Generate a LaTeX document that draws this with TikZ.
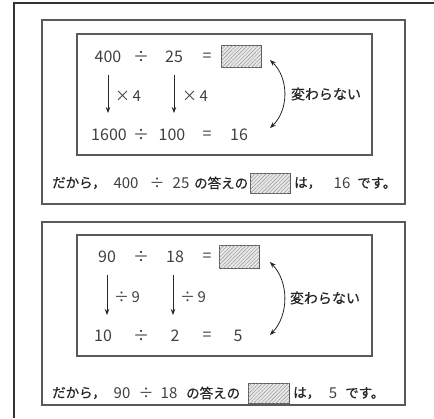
\documentclass[tikz,border=0pt]{standalone}
\usepackage{fontspec}
\newfontfamily\jp{Noto Sans CJK JP}
\newfontfamily\jpb[FakeBold=0.6]{Noto Sans CJK JP}
\usetikzlibrary{patterns.meta,arrows.meta}
\definecolor{ink}{HTML}{404040}
\definecolor{jink}{HTML}{262626}
\definecolor{boxc}{HTML}{5A5A5A}
\definecolor{outer}{HTML}{333333}
\begin{document}
\begin{tikzpicture}[x=1pt,y=-1pt,
  num/.style={font=\jp\fontsize{16}{16}\selectfont, text=ink, inner sep=0, anchor=center},
  bnum/.style={font=\jp\fontsize{15}{15}\selectfont, text=ink, inner sep=0, anchor=center},
  jtxt/.style={font=\jpb\fontsize{13.5}{13.5}\selectfont, text=jink, inner sep=0, anchor=west},
  lab/.style={font=\jpb\fontsize{14}{14}\selectfont, text=jink, inner sep=0, anchor=center},
  hatch/.style={draw=boxc, line width=0.8pt, fill=gray!18, inner sep=0,
    postaction={pattern={Lines[angle=45,distance=2.6pt,line width=0.45pt]}, pattern color=gray!85}},
  frame/.style={draw=boxc, line width=1.1pt},
  arr/.style={draw=jink, line width=0.8pt, -{Stealth[length=6pt,width=4.5pt]}},
  darr/.style={draw=jink, line width=0.8pt, {Stealth[length=6pt,width=4.5pt]}-{Stealth[length=6pt,width=4.5pt]}}
]
\useasboundingbox (0,0) rectangle (434,418);
% outer frame lines
\draw[outer, line width=1.2pt] (434,3) -- (14,3) -- (14,418);

% ===== Box 1 =====
\draw[frame] (42,20) rectangle (405,204);
\draw[frame] (77,34) rectangle (372,155);
\node[num] (t1a) at (108,57) {400};
\node[num] (t1b) at (141,57) {÷};
\node[num] (t1c) at (174,57) {25};
\node[num] (t1d) at (207,57) {=};
\node[hatch, minimum width=40pt, minimum height=22pt] (h1) at (241,56.5) {};
\node[num] (u1a) at (109,135) {1600};
\node[num] (u1b) at (141,135) {÷};
\node[num] (u1c) at (172,135) {100};
\node[num] (u1d) at (207,135) {=};
\node[num] (u1e) at (239,135) {16};
\coordinate (p1s) at (108,75); \coordinate (p1e) at (108,113);
\coordinate (q1s) at (174,75); \coordinate (q1e) at (174,113);
\draw[arr] (p1s) -- (p1e);
\draw[arr] (q1s) -- (q1e);
\node[bnum] (m1a) at (128,96) {×\,4};
\node[bnum] (m1b) at (195,96) {×\,4};
\coordinate (c1s) at (270,60); \coordinate (c1e) at (270,128);
\draw[darr] (c1s) .. controls (289,78) and (289,110) .. (c1e);
\node[lab] (k1) at (326,94) {変わらない};
% bottom line 1
\node[jtxt] (s1a) at (52,183) {だから，};
\node[bnum] (s1b) at (126,183) {400};
\node[bnum] (s1c) at (157,183) {÷};
\node[bnum] (s1d) at (181,183) {25};
\node[jtxt] (s1e) at (194,183) {の答えの};
\node[hatch, minimum width=40pt, minimum height=20pt] (h1b) at (270,183) {};
\node[jtxt] (s1f) at (294,183) {は，};
\node[bnum] (s1g) at (342,183) {16};
\node[jtxt] (s1h) at (357,183) {です。};

% ===== Box 2 =====
\draw[frame] (42,222) rectangle (405,405);
\draw[frame] (77,235) rectangle (372,356);
\node[num] (t2a) at (107,257) {90};
\node[num] (t2b) at (141,257) {÷};
\node[num] (t2c) at (175,257) {18};
\node[num] (t2d) at (207,257) {=};
\node[hatch, minimum width=40pt, minimum height=23pt] (h2) at (239,256.5) {};
\node[num] (u2a) at (103,336) {10};
\node[num] (u2b) at (141,336) {÷};
\node[num] (u2c) at (175,336) {2};
\node[num] (u2d) at (207,336) {=};
\node[num] (u2e) at (238,336) {5};
\coordinate (p2s) at (107,275); \coordinate (p2e) at (107,315);
\coordinate (q2s) at (173,275); \coordinate (q2e) at (173,315);
\draw[arr] (p2s) -- (p2e);
\draw[arr] (q2s) -- (q2e);
\node[bnum] (m2a) at (127,297) {÷\,9};
\node[bnum] (m2b) at (193,297) {÷\,9};
\coordinate (c2s) at (270,262); \coordinate (c2e) at (270,335);
\draw[darr] (c2s) .. controls (289,282) and (289,315) .. (c2e);
\node[lab] (k2) at (325,298) {変わらない};
% bottom line 2
\node[jtxt] (s2a) at (52,393) {だから，};
\node[bnum] (s2b) at (122,393) {90};
\node[bnum] (s2c) at (146,393) {÷};
\node[bnum] (s2d) at (169,393) {18};
\node[jtxt] (s2e) at (186,393) {の答えの};
\node[hatch, minimum width=41pt, minimum height=20pt] (h2b) at (268.5,393) {};
\node[jtxt] (s2f) at (293,393) {は，};
\node[bnum] (s2g) at (333,393) {5};
\node[jtxt] (s2h) at (345,393) {です。};
\end{tikzpicture}
\end{document}
